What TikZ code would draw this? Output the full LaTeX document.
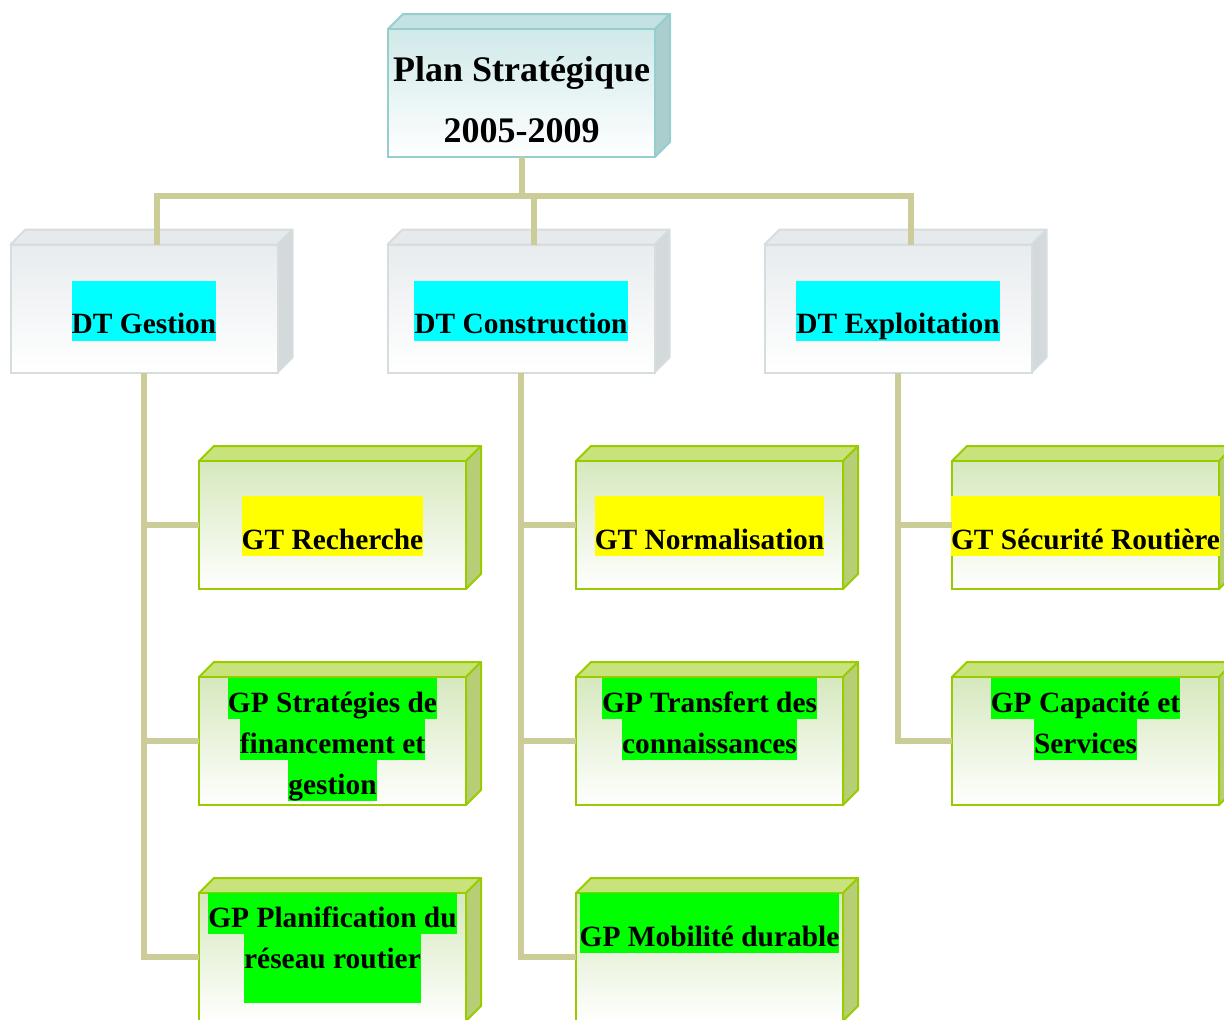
\documentclass[tikz,border=0pt]{standalone}
\usepackage{fontspec}
\setmainfont{Liberation Serif}
\usetikzlibrary{positioning}

\definecolor{linkc}{RGB}{204,204,153}
\definecolor{planedge}{RGB}{150,205,205}
\definecolor{planfront}{RGB}{208,233,233}
\definecolor{plantop}{RGB}{196,226,226}
\definecolor{planside}{RGB}{170,206,206}
\definecolor{dtedge}{RGB}{214,221,223}
\definecolor{dtfront}{RGB}{232,236,238}
\definecolor{dttop}{RGB}{230,234,236}
\definecolor{dtside}{RGB}{212,218,220}
\definecolor{gtedge}{RGB}{153,204,0}
\definecolor{gtfront}{RGB}{214,232,190}
\definecolor{gttop}{RGB}{200,226,124}
\definecolor{gtside}{RGB}{183,206,118}
\definecolor{hlcyan}{RGB}{0,255,255}
\definecolor{hlyellow}{RGB}{255,255,0}
\definecolor{hlgreen}{RGB}{0,255,0}

\setlength{\fboxsep}{0pt}
\newcommand{\hl}[3][26.5pt]{\colorbox{#2}{\rule[-3.5pt]{0pt}{\dimexpr#1+3.5pt\relax}#3}}

\begin{document}
\begin{tikzpicture}[x=0.5pt, y=-0.5pt,
    cube/.style n args={4}{draw=#1, line width=1pt, top color=#2, bottom color=white,
        minimum width=133.5pt, minimum height=64pt, inner sep=0pt, outer sep=0pt,
        append after command={\pgfextra{
            \filldraw[fill=#3, draw=#1, line width=1pt, line join=round] (\tikzlastnode.north west) -- ++(7.5pt,7.5pt) -- ([shift={(7.5pt,7.5pt)}]\tikzlastnode.north east) -- (\tikzlastnode.north east) -- cycle;
            \filldraw[fill=#4, draw=#1, line width=1pt, line join=round] (\tikzlastnode.north east) -- ++(7.5pt,7.5pt) -- ([shift={(7.5pt,7.5pt)}]\tikzlastnode.south east) -- (\tikzlastnode.south east) -- cycle;
        }}},
    planbox/.style={cube={planedge}{planfront}{plantop}{planside}, align=center,
        font=\bfseries\fontsize{18}{30.5}\selectfont},
    dtbox/.style={cube={dtedge}{dtfront}{dttop}{dtside}},
    gtbox/.style={cube={gtedge}{gtfront}{gttop}{gtside}},
    lbl/.style={inner sep=0pt, align=center, font=\bfseries\fontsize{14.7}{20.5}\selectfont},
    link/.style={draw=linkc, line width=3pt}]
        \useasboundingbox (0,0) rectangle (1224,1019);
        \clip (0,0) rectangle (1224,1019);
        \coordinate (bus) at (0,196);

        % Plan.
        \node[planbox] (plan) at (521.5,93) {\rule{0pt}{19pt}Plan Stratégique\\2005-2009};

        % DT.
        \node[dtbox] (gestion) at (144,308.5) {};
        \node[dtbox] (construction) at (521,308.5) {};
        \node[dtbox] (exploitation) at (898,308.5) {};
        \node[lbl, below=18pt of gestion.north] (lgestion) {\hl{hlcyan}{DT Gestion}};
        \node[lbl, below=18pt of construction.north] (lconstruction) {\hl{hlcyan}{DT Construction}};
        \node[lbl, below=18pt of exploitation.north] (lexploitation) {\hl{hlcyan}{DT Exploitation}};

        %DT Gestion
        \node[gtbox] (recherche) at (332.5,525) {};
        \node[gtbox] (strategies) at (332.5,741) {};
        \node[gtbox] (planif) at (332.5,957) {};
        \node[lbl, below=17.5pt of recherche.north] (lrecherche) {\hl{hlyellow}{GT Recherche}};
        \node[lbl, below=0.5pt of strategies.north] (lstrategies) {\hl[17pt]{hlgreen}{GP Stratégies de}\\\hl[17pt]{hlgreen}{financement et}\\\hl[17pt]{hlgreen}{gestion}};
        \node[lbl, below=0pt of planif.north] (lplanif) {\hl[17pt]{hlgreen}{GP Planification du}\\\hl[17pt]{hlgreen}{réseau routier\rule[-17.5pt]{0pt}{17.5pt}}};

        %DT Construction
        \node[gtbox] (normalisation) at (709.5,525) {};
        \node[gtbox] (transfert) at (709.5,741) {};
        \node[gtbox] (mobilite) at (709.5,957) {};
        \node[lbl, below=17.5pt of normalisation.north] (lnormalisation) {\hl{hlyellow}{GT Normalisation}};
        \node[lbl, below=0.5pt of transfert.north] (ltransfert) {\hl[17pt]{hlgreen}{GP Transfert des}\\\hl[17pt]{hlgreen}{connaissances}};
        \node[lbl, below=0pt of mobilite.north] (lmobilite) {\hl{hlgreen}{GP Mobilité durable}};

        %DT Exploitation
        \node[gtbox] (securite) at (1085.5,525) {};
        \node[gtbox] (capacite) at (1085.5,741) {};
        \node[lbl, below=17.5pt of securite.north] (lsecurite) {\hl{hlyellow}{GT Sécurité Routière}};
        \node[lbl, below=0.5pt of capacite.north] (lcapacite) {\hl[17pt]{hlgreen}{GP Capacité et}\\\hl[17pt]{hlgreen}{Services}};

        % Links.
        \draw[link] (plan.south) -- (plan.south |- bus) -| ([xshift=6.5pt]gestion.north);
        \draw[link] (plan.south |- bus) -| ([xshift=6.5pt]construction.north);
        \draw[link] (plan.south |- bus) -| ([xshift=6.5pt]exploitation.north);
        \draw[link] (gestion.south) |- (recherche.west);
        \draw[link] (gestion.south) |- (strategies.west);
        \draw[link] (gestion.south) |- (planif.west);
        \draw[link] (construction.south) |- (normalisation.west);
        \draw[link] (construction.south) |- (transfert.west);
        \draw[link] (construction.south) |- (mobilite.west);
        \draw[link] (exploitation.south) |- (securite.west);
        \draw[link] (exploitation.south) |- (capacite.west);
    \end{tikzpicture}
\end{document}
